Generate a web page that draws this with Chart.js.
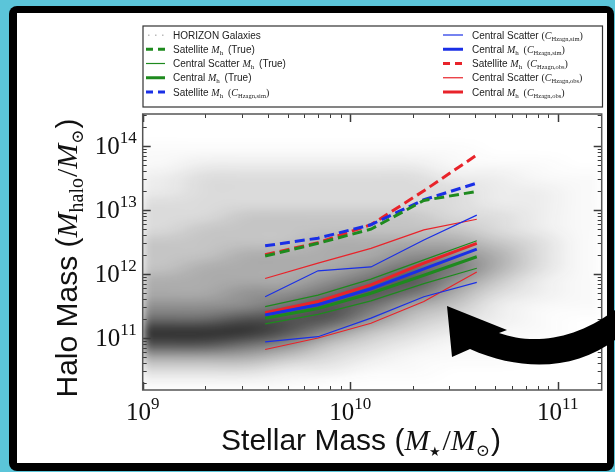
<!DOCTYPE html>
<html>
<head>
<meta charset="utf-8">
<script src="https://cdn.jsdelivr.net/npm/chart.js@4.4.1/dist/chart.umd.min.js"></script>
<style>
  html, body { margin: 0; padding: 0; background: #5bc5d9; }
  canvas { display: block; }
</style>
</head>
<body>
<canvas id="c" width="615" height="472"></canvas>
<script>
// all masses are log10 values
const binLogMstar = [9.59, 9.845, 10.10, 10.355, 10.61];

const satTrue    = [12.28, 12.48, 12.70, 13.15, 13.29];
const scatTrueHi = [11.49, 11.67, 11.92, 12.22, 12.52];
const scatTrueLo = [11.22, 11.37, 11.58, 11.85, 12.09];
const cenTrue    = [11.31, 11.46, 11.70, 11.98, 12.27];

const satSim     = [12.44, 12.56, 12.77, 13.16, 13.42];
const scatSimHi  = [11.645, 12.05, 12.11, 12.53, 12.92];
const scatSimLo  = [10.94, 11.02, 11.31, 11.645, 11.87];
const cenSim     = [11.36, 11.52, 11.77, 12.08, 12.39];

const satObs     = [12.30, 12.49, 12.77, 13.30, 13.86];
const scatObsHi  = [11.93, 12.17, 12.40, 12.69, 12.855];
const scatObsLo  = [10.82, 11.00, 11.23, 11.57, 12.03];
const cenObs     = [11.395, 11.57, 11.83, 12.17, 12.48];

// HORIZON galaxies cloud, estimated darkness 0..9 per cell
const cloudLogX = [9.1, 9.3, 9.5, 9.7, 9.9, 10.1, 10.3, 10.5, 10.7, 10.9, 11.1];
const cloudLogY = [14.3, 14.1, 13.9, 13.7, 13.5, 13.3, 13.1, 12.9, 12.7, 12.5, 12.3,
                   12.1, 11.9, 11.7, 11.5, 11.3, 11.1, 10.9, 10.7, 10.5, 10.3];
const cloudDensity = [
  [0,0,0,0,0,0,0,0,0,0,0],
  [0,0,0,0,0,0,0,0,0,0,0],
  [1,1,1,1,1,1,1,1,0,0,0],
  [1,2,2,2,2,2,2,1,1,1,0],
  [2,3,3,3,3,3,3,2,2,1,1],
  [2,3,3,3,3,3,3,3,2,2,1],
  [3,3,3,3,3,3,3,3,2,2,1],
  [3,3,4,4,4,4,4,3,3,2,1],
  [3,4,4,4,4,4,4,4,3,2,1],
  [4,4,4,4,5,5,5,5,4,3,1],
  [4,4,5,5,5,5,6,6,5,3,1],
  [4,5,5,5,5,6,7,7,5,3,1],
  [5,5,5,5,6,7,8,6,4,2,1],
  [5,5,6,6,7,8,7,5,3,2,1],
  [6,6,6,7,8,7,5,4,2,1,1],
  [7,7,8,8,8,6,4,3,2,1,0],
  [9,9,9,8,6,4,3,2,1,1,0],
  [8,8,7,6,4,3,2,1,1,0,0],
  [5,5,5,4,3,2,1,1,1,0,0],
  [3,3,3,2,2,1,1,0,0,0,0],
  [1,1,1,1,0,0,0,0,0,0,0]
];

const xTickExps = [9, 10, 11];
const yTickExps = [11, 12, 13, 14];

const SANS = '"Liberation Sans", Arial, sans-serif';
const SERIF = '"Liberation Serif", "DejaVu Serif", serif';
const GREEN = '#1e8a1e', BLUE = '#1a2fe6', RED = '#e8232a';

const pts = (ys) => ys.map((v, i) => ({ x: Math.pow(10, binLogMstar[i]), y: Math.pow(10, v) }));
const band = (hi, lo) => pts(hi).concat([{ x: Math.pow(10, binLogMstar[4]), y: null }], pts(lo));

function lineSet(label, data, color, width, dash) {
  return { label, data, borderColor: color, borderWidth: width, borderDash: dash || [],
           pointRadius: 0, fill: false, tension: 0, spanGaps: false };
}

const datasets = [
  lineSet('Satellite M_h (True)', pts(satTrue), GREEN, 3, [10, 5]),
  lineSet('Central Scatter M_h (True)', band(scatTrueHi, scatTrueLo), GREEN, 1.2),
  lineSet('Central M_h (True)', pts(cenTrue), GREEN, 3),
  lineSet('Satellite M_h (sim)', pts(satSim), BLUE, 3, [10, 5]),
  lineSet('Central Scatter (sim)', band(scatSimHi, scatSimLo), BLUE, 1.2),
  lineSet('Central M_h (sim)', pts(cenSim), BLUE, 3),
  lineSet('Satellite M_h (obs)', pts(satObs), RED, 3, [10, 5]),
  lineSet('Central Scatter (obs)', band(scatObsHi, scatObsLo), RED, 1.2),
  lineSet('Central M_h (obs)', pts(cenObs), RED, 3)
];

// mixed-font text helpers
function runsWidth(ctx, runs) {
  let w = 0;
  runs.forEach(r => { ctx.font = r.f; w += ctx.measureText(r.t).width + (r.sp || 0); });
  return w;
}
function drawRuns(ctx, runs, x, y, align) {
  const w = runsWidth(ctx, runs);
  let cx = align === 'center' ? x - w / 2 : (align === 'right' ? x - w : x);
  ctx.textAlign = 'left';
  ctx.textBaseline = 'alphabetic';
  runs.forEach(r => {
    ctx.font = r.f;
    ctx.fillText(r.t, cx, y + (r.dy || 0));
    cx += ctx.measureText(r.t).width + (r.sp || 0);
  });
}

const framePlugin = {
  id: 'frame',
  beforeDraw(chart) {
    const ctx = chart.ctx;
    ctx.save();
    ctx.fillStyle = '#5bc5d9';
    ctx.fillRect(0, 0, chart.width, chart.height);
    ctx.fillStyle = '#000';
    ctx.beginPath();
    ctx.roundRect(9, 6, 605, 465, 8);
    ctx.fill();
    ctx.fillStyle = '#fff';
    ctx.fillRect(17, 13, 590, 450);
    ctx.restore();
  }
};

const cloudPlugin = {
  id: 'cloud',
  beforeDatasetsDraw(chart) {
    const { ctx, chartArea: a, scales: { x, y } } = chart;
    const nx = cloudLogX.length, ny = cloudLogY.length;
    const off = document.createElement('canvas');
    off.width = nx; off.height = ny;
    const octx = off.getContext('2d');
    const img = octx.createImageData(nx, ny);
    for (let j = 0; j < ny; j++) {
      for (let i = 0; i < nx; i++) {
        const v = cloudDensity[j][i];
        const k = (j * nx + i) * 4;
        img.data[k] = 25; img.data[k + 1] = 25; img.data[k + 2] = 25;
        img.data[k + 3] = Math.round(255 * 0.92 * Math.pow(v / 9, 1.6));
      }
    }
    octx.putImageData(img, 0, 0);
    const hx = (cloudLogX[1] - cloudLogX[0]) / 2, hy = (cloudLogY[0] - cloudLogY[1]) / 2;
    const x0 = x.getPixelForValue(Math.pow(10, cloudLogX[0] - hx));
    const x1 = x.getPixelForValue(Math.pow(10, cloudLogX[nx - 1] + hx));
    const y0 = y.getPixelForValue(Math.pow(10, cloudLogY[0] + hy));
    const y1 = y.getPixelForValue(Math.pow(10, cloudLogY[ny - 1] - hy));
    ctx.save();
    ctx.beginPath();
    ctx.rect(a.left, a.top, a.right - a.left, a.bottom - a.top);
    ctx.clip();
    ctx.imageSmoothingEnabled = true;
    ctx.imageSmoothingQuality = 'high';
    ctx.filter = 'blur(5px)';
    ctx.drawImage(off, x0, y0, x1 - x0, y1 - y0);
    ctx.restore();
  }
};

const axesPlugin = {
  id: 'axes',
  afterDatasetsDraw(chart) {
    const { ctx, chartArea: a, scales: { x, y } } = chart;
    ctx.save();
    ctx.strokeStyle = '#3a3a3a';
    ctx.lineWidth = 1;
    const tick = (x1, y1, x2, y2) => { ctx.beginPath(); ctx.moveTo(x1, y1); ctx.lineTo(x2, y2); ctx.stroke(); };
    for (let d = 9; d <= 11; d++) {
      for (let m = 1; m <= 9; m++) {
        const v = m * Math.pow(10, d);
        if (v < x.min || v > x.max) continue;
        const px = Math.round(x.getPixelForValue(v)) + 0.5;
        const len = m === 1 ? 8 : 4;
        ctx.lineWidth = m === 1 ? 1.5 : 1;
        tick(px, a.bottom, px, a.bottom - len);
        tick(px, a.top, px, a.top + len);
      }
    }
    for (let d = 10; d <= 14; d++) {
      for (let m = 1; m <= 9; m++) {
        const v = m * Math.pow(10, d);
        if (v < y.min || v > y.max) continue;
        const py = Math.round(y.getPixelForValue(v)) + 0.5;
        const len = m === 1 ? 8 : 4;
        ctx.lineWidth = m === 1 ? 1.5 : 1;
        tick(a.left, py, a.left + len, py);
        tick(a.right, py, a.right - len, py);
      }
    }
    ctx.lineWidth = 1.5;
    ctx.strokeStyle = '#555';
    ctx.strokeRect(a.left, a.top, a.right - a.left, a.bottom - a.top);
    ctx.restore();
  },
  afterDraw(chart) {
    const { ctx, chartArea: a, scales: { x, y } } = chart;
    ctx.save();
    ctx.fillStyle = '#111';
    xTickExps.forEach(e => {
      const px = x.getPixelForValue(Math.pow(10, e));
      drawRuns(ctx, [{ t: '10', f: '25px ' + SERIF }, { t: String(e), f: '17px ' + SERIF, dy: -11 }], px, 420, 'center');
    });
    yTickExps.forEach(e => {
      const py = y.getPixelForValue(Math.pow(10, e));
      drawRuns(ctx, [{ t: '10', f: '25px ' + SERIF }, { t: String(e), f: '17px ' + SERIF, dy: -11 }], a.left - 6, py + 8, 'right');
    });
    // axis titles
    const big = '30px ';
    drawRuns(ctx, [
      { t: 'Stellar Mass (', f: big + SANS },
      { t: 'M', f: 'italic ' + big + SERIF },
      { t: '\u2605', f: '13px ' + SERIF, dy: 6, sp: 1 },
      { t: '/', f: big + SERIF },
      { t: 'M', f: 'italic ' + big + SERIF },
      { t: '\u2299', f: '17px ' + SERIF, dy: 6, sp: 1 },
      { t: ')', f: big + SANS }
    ], 361, 450, 'center');
    ctx.save();
    ctx.translate(77, 258);
    ctx.rotate(-Math.PI / 2);
    drawRuns(ctx, [
      { t: 'Halo Mass (', f: big + SANS },
      { t: 'M', f: 'italic ' + big + SERIF },
      { t: 'halo', f: '20px ' + SERIF, dy: 6, sp: 1 },
      { t: '/', f: big + SERIF },
      { t: 'M', f: 'italic ' + big + SERIF },
      { t: '\u2299', f: '17px ' + SERIF, dy: 6, sp: 1 },
      { t: ')', f: big + SANS }
    ], 0, 0, 'center');
    ctx.restore();
    ctx.restore();
  }
};

const legendPlugin = {
  id: 'boxLegend',
  afterDraw(chart) {
    const ctx = chart.ctx;
    const ds = chart.data.datasets;
    ctx.save();
    ctx.fillStyle = '#fff';
    ctx.fillRect(143, 26, 459.5, 81);
    ctx.strokeStyle = '#333';
    ctx.lineWidth = 1.2;
    ctx.strokeRect(143, 26, 459.5, 81);
    const T = '10px ' + SANS, MI = 'italic 10px ' + SERIF, SUB = '7px ' + SERIF, SUBS = '6.5px ' + SERIF;
    const mh = [{ t: 'M', f: MI }, { t: 'h', f: SUB, dy: 2, sp: 2 }];
    const cat = (s) => [{ t: '(', f: '10px ' + SERIF }, { t: 'C', f: MI },
                        { t: 'Hzagn,' + s, f: SUBS, dy: 2 }, { t: ')', f: '10px ' + SERIF }];
    const rowY = (i) => 38.5 + i * 14.25;
    const sample = (d, x0, x1, yy) => {
      ctx.save();
      ctx.strokeStyle = d.borderColor;
      ctx.lineWidth = d.borderWidth;
      ctx.setLineDash(d.borderDash.length ? [7, 5] : []);
      ctx.beginPath(); ctx.moveTo(x0, yy); ctx.lineTo(x1, yy); ctx.stroke();
      ctx.restore();
    };
    const left = [
      [null, [{ t: 'HORIZON Galaxies', f: T }]],
      [ds[0], [{ t: 'Satellite ', f: T }, ...mh, { t: ' (True)', f: T }]],
      [ds[1], [{ t: 'Central Scatter ', f: T }, ...mh, { t: ' (True)', f: T }]],
      [ds[2], [{ t: 'Central ', f: T }, ...mh, { t: ' (True)', f: T }]],
      [ds[3], [{ t: 'Satellite ', f: T }, ...mh, { t: ' ', f: T }, ...cat('sim')]]
    ];
    const right = [
      [ds[4], [{ t: 'Central Scatter ', f: T }, ...cat('sim')]],
      [ds[5], [{ t: 'Central ', f: T }, ...mh, { t: ' ', f: T }, ...cat('sim')]],
      [ds[6], [{ t: 'Satellite ', f: T }, ...mh, { t: ' ', f: T }, ...cat('obs')]],
      [ds[7], [{ t: 'Central Scatter ', f: T }, ...cat('obs')]],
      [ds[8], [{ t: 'Central ', f: T }, ...mh, { t: ' ', f: T }, ...cat('obs')]]
    ];
    ctx.fillStyle = '#222';
    left.forEach(([d, runs], i) => {
      const yy = rowY(i);
      if (d) sample(d, 146, 165, yy - 3.5);
      else {
        ctx.fillStyle = '#bbb';
        [148, 155, 162].forEach(px => ctx.fillRect(px, yy - 4, 1.5, 1.5));
        ctx.fillStyle = '#222';
      }
      drawRuns(ctx, runs, 173, yy, 'left');
    });
    right.forEach(([d, runs], i) => {
      const yy = rowY(i);
      sample(d, 443, 463, yy - 3.5);
      drawRuns(ctx, runs, 472, yy, 'left');
    });
    ctx.restore();

    // big black curved arrow drawn over the figure
    ctx.save();
    ctx.fillStyle = '#000';
    ctx.beginPath();
    ctx.moveTo(447, 306);
    ctx.lineTo(507, 330);
    ctx.lineTo(499, 333);
    ctx.bezierCurveTo(530, 344, 572, 342, 615, 310);
    ctx.lineTo(615, 340);
    ctx.bezierCurveTo(575, 370, 522, 372, 470, 349);
    ctx.lineTo(452, 357);
    ctx.closePath();
    ctx.fill();
    ctx.restore();
  }
};

new Chart(document.getElementById('c'), {
  type: 'line',
  data: { datasets },
  options: {
    responsive: false,
    animation: false,
    devicePixelRatio: 1,
    layout: { padding: { left: 142.7, right: 13.3, top: 114, bottom: 82 } },
    plugins: { legend: { display: false }, tooltip: { enabled: false } },
    scales: {
      x: { type: 'logarithmic', display: false, min: 1e9, max: Math.pow(10, 11.212) },
      y: { type: 'logarithmic', display: false, min: Math.pow(10, 10.1875), max: Math.pow(10, 14.5) }
    }
  },
  plugins: [framePlugin, cloudPlugin, axesPlugin, legendPlugin]
});
</script>
</body>
</html>
